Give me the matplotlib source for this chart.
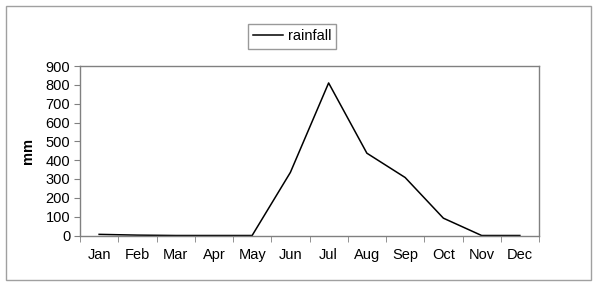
import numpy as np
import matplotlib
matplotlib.use("Agg")
import matplotlib.pyplot as plt
from matplotlib.patches import Rectangle

months = ["Jan", "Feb", "Mar", "Apr", "May", "Jun", "Jul", "Aug", "Sep", "Oct", "Nov", "Dec"]
rainfall = [6, 2, 0, 0, 0, 335, 810, 437, 308, 92, 0, 0]

plt.rcParams['font.family'] = ['Liberation Sans', 'DejaVu Sans']

fig = plt.figure(figsize=(6, 2.88), dpi=100)
ax = fig.add_axes([80/600, 1 - 235.5/288, (539-80)/600, (235.5-66)/288])

x = np.arange(len(months))
ax.plot(x, rainfall, color='black', linewidth=1.1, label='rainfall')

ax.set_xlim(-0.5, 11.5)
ax.set_ylim(0, 900)
ax.set_yticks(range(0, 901, 100))
ax.set_xticks(x)
ax.set_xticklabels(months)
ax.set_xticks(np.arange(-0.5, 12, 1), minor=True)
ax.tick_params(axis='x', which='major', length=0, pad=9, labelsize=10.5)
ax.tick_params(axis='x', which='minor', length=4, color='#808080', direction='out')
ax.tick_params(axis='y', length=4, color='#808080', direction='out', pad=3, labelsize=10.5)

for s in ax.spines.values():
    s.set_color('#808080')
    s.set_linewidth(1)

ax.set_ylabel("mm", fontweight='bold', fontsize=10.5, labelpad=8)

leg = ax.legend(loc='center', bbox_to_anchor=(292/600, 1 - 36.5/288),
                bbox_transform=fig.transFigure, frameon=True, fancybox=False,
                fontsize=10.5, handlelength=2.1, handletextpad=0.3,
                borderpad=0.35, borderaxespad=0)
leg.get_frame().set_edgecolor('#808080')
leg.get_frame().set_linewidth(1)

# outer chart border
fig.patches.append(Rectangle((6/600, 1 - 280/288), (591-6)/600, (280-6)/288,
                             transform=fig.transFigure, fill=False,
                             edgecolor='#a0a0a0', linewidth=1))

fig.savefig('out.png', dpi=100)
